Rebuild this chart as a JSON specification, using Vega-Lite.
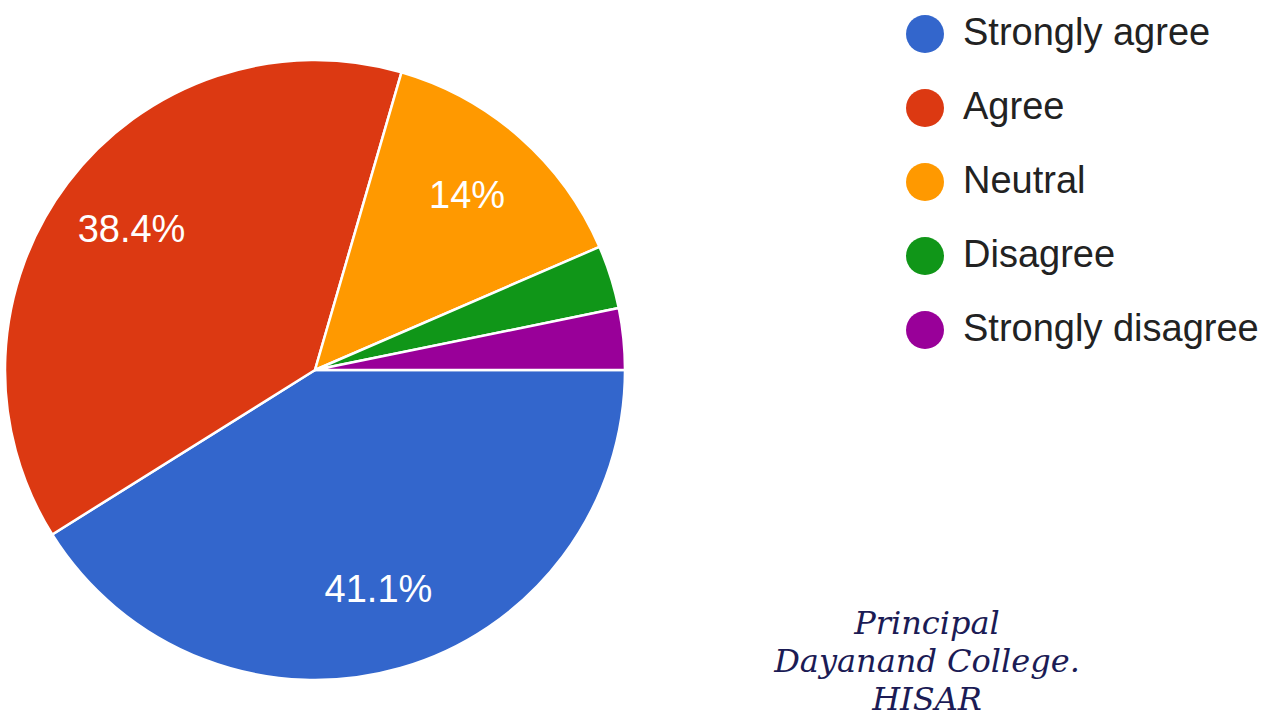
{
  "$schema": "https://vega.github.io/schema/vega-lite/v6.json",
  "width": 620,
  "height": 740,
  "padding": 0,
  "autosize": {"type": "pad"},
  "background": "white",
  "title": {
    "text": ["Principal", "Dayanand College.", "HISAR"],
    "orient": "bottom",
    "anchor": "middle",
    "frame": "group",
    "offset": -131,
    "dx": 612,
    "font": "DejaVu Serif",
    "fontStyle": "italic",
    "fontWeight": "normal",
    "fontSize": 32,
    "lineHeight": 38,
    "color": "#1b1b55"
  },
  "data": {
    "values": [
      {"response": "Strongly agree", "pct": 41.1, "rank": 1, "label": "41.1%"},
      {"response": "Agree", "pct": 38.4, "rank": 2, "label": "38.4%"},
      {"response": "Neutral", "pct": 14.0, "rank": 3, "label": "14%"},
      {"response": "Disagree", "pct": 3.3, "rank": 4, "label": ""},
      {"response": "Strongly disagree", "pct": 3.2, "rank": 5, "label": ""}
    ]
  },
  "encoding": {
    "theta": {
      "field": "pct",
      "type": "quantitative",
      "stack": true,
      "scale": {"range": [1.5707963, 7.8539816]}
    },
    "order": {"field": "rank", "type": "quantitative"}
  },
  "layer": [
    {
      "mark": {"type": "arc", "outerRadius": 310, "stroke": "white", "strokeWidth": 2.5},
      "encoding": {
        "color": {
          "field": "response",
          "type": "nominal",
          "sort": ["Strongly agree", "Agree", "Neutral", "Disagree", "Strongly disagree"],
          "scale": {
            "domain": ["Strongly agree", "Agree", "Neutral", "Disagree", "Strongly disagree"],
            "range": ["#3366CC", "#DC3912", "#FF9900", "#109618", "#990099"]
          },
          "legend": {
            "title": null,
            "orient": "none",
            "legendX": 901,
            "legendY": 15,
            "padding": 0,
            "symbolType": "circle",
            "symbolSize": 1444,
            "symbolStrokeWidth": 0,
            "symbolOpacity": 1,
            "labelFont": "Liberation Sans",
            "labelFontSize": 38,
            "labelColor": "#222222",
            "labelOffset": 19,
            "labelLimit": 400,
            "rowPadding": 36
          }
        }
      }
    },
    {
      "mark": {
        "type": "text",
        "radius": 230,
        "font": "Liberation Sans",
        "fontSize": 38,
        "fill": "white",
        "align": "center",
        "baseline": "middle"
      },
      "encoding": {
        "text": {"field": "label", "type": "nominal"}
      }
    }
  ]
}
